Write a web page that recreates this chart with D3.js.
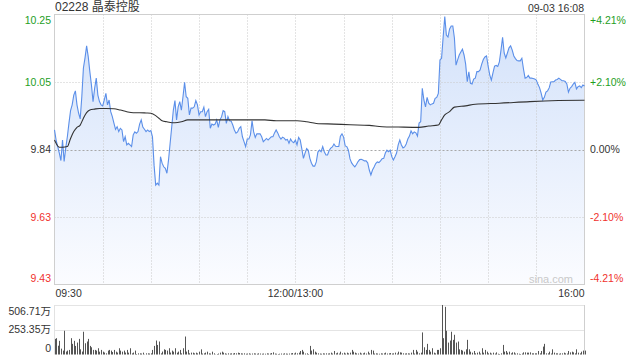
<!DOCTYPE html>
<html><head><meta charset="utf-8">
<script src="https://cdn.jsdelivr.net/npm/d3@7/dist/d3.min.js"></script>
<style>
html,body{margin:0;padding:0;background:#fff;}
svg text{font-family:"Liberation Sans",Arial,"Noto Sans CJK SC",sans-serif;}
</style></head><body>
<svg id="c" width="640" height="360"></svg>
<script>
// ---------- data ----------
const title = "02228 晶泰控股";
const stamp = "09-03 16:08";
const prevClose = 9.84;
const pctTicks = [4.21, 2.10, 0, -2.10, -4.21];
const pctLabels = ["+4.21%", "+2.10%", "0.00%", "-2.10%", "-4.21%"];
const timeTickMinutes = [0, 150, 330];
const timeTickLabels = ["09:30", "12:00/13:00", "16:00"];
const gridMinutes = [30, 60, 90, 120, 150, 180, 210, 240, 270, 300];
const volTicks = [0, 253.35, 506.71];
const volTickLabels = ["0", "253.35万", "506.71万"];

// price per minute (index = minutes since 09:30, trading minutes only)
const prices = [
9.900,9.869,9.849,9.829,9.806,9.869,9.803,9.845,9.879,9.921,
9.959,9.977,10.007,10.020,9.977,9.952,9.934,10.002,10.090,10.121,
10.158,10.125,10.079,10.038,9.987,10.028,10.059,10.007,9.987,9.977,
9.974,9.992,10.012,9.977,9.992,9.956,9.941,9.921,9.902,9.910,
9.895,9.905,9.900,9.864,9.879,9.854,9.859,9.854,9.849,9.885,
9.894,9.890,9.895,9.918,9.931,9.909,9.902,9.895,9.900,9.895,
9.898,9.879,9.792,9.731,9.737,9.731,9.818,9.798,9.787,9.782,
9.767,9.808,9.859,9.910,9.961,9.990,9.931,9.971,9.987,9.961,
10.002,10.046,10.002,9.997,9.946,9.967,9.967,9.971,9.990,9.977,
9.946,9.956,9.956,9.970,9.941,9.956,9.963,9.905,9.918,9.915,
9.918,9.931,9.908,9.931,9.940,9.959,9.956,9.920,9.941,9.928,
9.927,9.915,9.900,9.890,9.894,9.905,9.910,9.879,9.864,9.849,
9.872,9.872,9.885,9.928,9.894,9.877,9.888,9.888,9.888,9.879,
9.864,9.869,9.874,9.869,9.874,9.879,9.879,9.891,9.900,9.891,
9.879,9.872,9.878,9.875,9.869,9.871,9.859,9.872,9.864,9.861,
9.869,9.854,9.877,9.869,9.842,9.813,9.829,9.843,9.838,9.813,
9.798,9.789,9.789,9.802,9.832,9.838,9.833,9.849,9.833,9.823,
9.823,9.837,9.844,9.848,9.857,9.850,9.849,9.849,9.881,9.888,
9.878,9.851,9.849,9.838,9.811,9.799,9.792,9.787,9.794,9.803,
9.809,9.810,9.808,9.805,9.805,9.799,9.777,9.762,9.777,9.786,
9.797,9.802,9.800,9.805,9.812,9.813,9.829,9.838,9.833,9.838,
9.818,9.808,9.818,9.829,9.854,9.869,9.854,9.845,9.848,9.857,
9.872,9.881,9.897,9.888,9.894,9.891,9.881,9.921,9.925,10.028,
9.992,9.971,10.000,9.982,9.977,9.980,9.982,9.997,10.000,10.012,
10.115,10.120,10.186,10.248,10.191,10.185,10.210,10.219,10.219,10.182,
10.099,10.115,10.130,10.139,10.148,10.130,10.102,10.048,10.078,10.043,
10.041,10.056,10.059,10.079,10.079,10.084,10.102,10.116,10.124,10.127,
10.096,10.069,10.053,10.075,10.096,10.098,10.095,10.109,10.145,10.184,
10.136,10.121,10.136,10.152,10.158,10.145,10.127,10.119,10.113,10.112,
10.112,10.120,10.087,10.059,10.061,10.067,10.059,10.059,10.058,10.056,
10.053,10.040,10.030,10.013,9.992,10.000,10.016,10.020,10.029,10.047,
10.048,10.048,10.053,10.055,10.059,10.055,10.051,10.051,10.049,10.041,
10.016,10.028,10.033,10.041,10.046,10.026,10.033,10.035,10.030,10.038,
10.035
];

// average price line
const avgMinutes = [0,1,3,5,8,10,12,14,16,18,20,22,25,28,32,37,41,45,49,53,57,60,63,65,67,70,75,79,83,90,97,104,131,138,151,157,163,174,184,196,204,214,227,233,239,241,243,246,249,256,262,277,296,329,330];
const avgPrices  = [9.869,9.859,9.847,9.847,9.849,9.874,9.895,9.908,9.915,9.936,9.953,9.961,9.964,9.966,9.966,9.965,9.961,9.956,9.953,9.953,9.952,9.951,9.944,9.936,9.928,9.925,9.922,9.925,9.931,9.931,9.931,9.931,9.931,9.928,9.928,9.925,9.920,9.918,9.916,9.914,9.910,9.909,9.908,9.912,9.915,9.931,9.946,9.956,9.970,9.974,9.979,9.982,9.987,9.991,9.991];

// volume per minute, 万 shares
const volumes = [
160,167,90,140,60,40,243,30,40,47,
167,109,140,88,122,160,53,30,233,115,
133,160,88,74,47,47,40,64,29,47,
29,20,12,40,47,40,25,47,29,20,
64,40,29,40,20,47,19,64,12,20,
40,5,12,12,10,19,2,12,12,10,
12,47,88,143,98,133,12,30,53,47,
40,64,20,40,29,64,19,30,47,12,
64,184,30,47,12,19,19,12,19,12,
29,53,10,12,19,29,12,10,29,12,
2,5,10,19,29,19,12,8,12,10,
12,10,15,12,19,15,12,10,12,8,
10,12,8,10,12,10,8,12,10,8,
10,8,12,10,10,15,22,10,8,5,
8,10,8,12,10,8,10,12,15,10,
19,12,19,36,47,29,10,12,5,88,
40,53,29,19,12,10,8,12,10,12,
10,12,19,10,36,12,19,10,29,12,
19,10,19,12,19,47,29,19,12,10,
19,10,12,19,10,29,12,47,40,10,
12,10,8,12,10,12,19,10,12,15,
10,12,19,10,29,22,19,12,10,12,
12,10,19,47,10,47,29,12,19,226,
74,47,109,47,29,64,19,12,47,47,
64,507,167,488,243,122,143,233,150,202,
122,133,53,47,40,29,53,150,53,29,
19,36,12,19,29,10,64,19,47,29,
12,19,10,19,10,22,8,5,12,98,
29,36,19,29,12,22,22,10,12,8,
5,10,22,22,19,19,22,12,12,12,
12,36,12,36,81,109,12,12,29,10,
53,19,12,12,8,12,12,19,12,10,
36,22,29,22,12,53,19,12,29,40,
40
];

// ---------- layout ----------
const L = 54.5, R = 584.5, T = 14.5, B = 284.5;
const VT = 305, VB = 354.5;
const green = "#1e9e1e", red = "#f0322d", dark = "#333";

const svg = d3.select("#c");
const x = d3.scaleLinear().domain([0, 330]).range([L, R]);
const y = d3.scaleLinear()
  .domain([prevClose * (1 - 0.0421), prevClose * (1 + 0.0421)])
  .range([B, T]);
const yv = d3.scaleLinear().domain([0, 506.71]).range([VB, VT]);

// gradient fill
const defs = svg.append("defs");
const grad = defs.append("linearGradient").attr("id", "g")
  .attr("gradientUnits", "userSpaceOnUse").attr("x1", 0).attr("x2", 0).attr("y1", T).attr("y2", B);
grad.append("stop").attr("offset", "0").attr("stop-color", "#d2e1fa");
grad.append("stop").attr("offset", "1").attr("stop-color", "#fbfcff");

const data = prices.map((p, i) => ({m: i, p}));
svg.append("path").datum(data)
  .attr("fill", "url(#g)")
  .attr("d", d3.area().x(d => x(d.m)).y0(B).y1(d => y(d.p)));

// vertical grid
svg.append("g").selectAll("line").data(gridMinutes).join("line")
  .attr("x1", d => Math.round(x(d)) + 0.5).attr("x2", d => Math.round(x(d)) + 0.5)
  .attr("y1", T).attr("y2", B)
  .attr("stroke", "#c8c8c8").attr("stroke-dasharray", "1,2");

// horizontal grid
[2.10, -2.10].forEach(p => {
  const yy = Math.round(y(prevClose * (1 + p / 100))) + 0.5;
  svg.append("line").attr("x1", L).attr("x2", R).attr("y1", yy).attr("y2", yy)
    .attr("stroke", "#c8c8c8").attr("stroke-dasharray", "1,2");
});
{
  const yy = Math.round(y(prevClose)) + 0.5;
  svg.append("line").attr("x1", L).attr("x2", R).attr("y1", yy).attr("y2", yy)
    .attr("stroke", "#a8a8a8").attr("stroke-dasharray", "2,2");
}

// border
svg.append("rect").attr("x", L).attr("y", T).attr("width", R - L).attr("height", B - T)
  .attr("fill", "none").attr("stroke", "#cfcfcf");

// price line
svg.append("path").datum(data)
  .attr("fill", "none").attr("stroke", "#5b8fe9").attr("stroke-width", 1.1)
  .attr("d", d3.line().x(d => x(d.m)).y(d => y(d.p)));

// average line
const avgData = avgMinutes.map((m, i) => ({m, p: avgPrices[i]}));
svg.append("path").datum(avgData)
  .attr("fill", "none").attr("stroke", "#333").attr("stroke-width", 1.1)
  .attr("d", d3.line().curve(d3.curveMonotoneX).x(d => x(d.m)).y(d => y(d.p)));

// price axis labels
pctTicks.forEach((p, i) => {
  const v = prevClose * (1 + p / 100);
  let yy = y(v);
  if (i === 0) yy += 5.5;
  if (i === pctTicks.length - 1) yy -= 6.5;
  const col = p > 0 ? green : (p < 0 ? red : dark);
  svg.append("text").attr("x", 51).attr("y", yy).attr("dy", "0.35em")
    .attr("text-anchor", "end").attr("font-size", 10.5).attr("fill", col).text(v.toFixed(2));
  svg.append("text").attr("x", 590).attr("y", yy).attr("dy", "0.35em")
    .attr("text-anchor", "start").attr("font-size", 10.5).attr("fill", col).text(pctLabels[i]);
});

// time labels
timeTickMinutes.forEach((m, i) => {
  const anchor = i === 0 ? "start" : (i === timeTickMinutes.length - 1 ? "end" : "middle");
  svg.append("text").attr("x", x(m) + (i === 0 ? 1 : 0)).attr("y", 293).attr("dy", "0.35em")
    .attr("text-anchor", anchor).attr("font-size", 10.5).attr("fill", dark).text(timeTickLabels[i]);
});

// title & stamp
svg.append("text").attr("x", 55).attr("y", 7).attr("dy", "0.35em")
  .attr("font-size", 12).attr("fill", dark).text(title);
svg.append("text").attr("x", 584).attr("y", 8).attr("dy", "0.35em").attr("text-anchor", "end")
  .attr("font-size", 10.5).attr("fill", dark).text(stamp);

// watermark
svg.append("text").attr("x", 573).attr("y", 279).attr("dy", "0.35em").attr("text-anchor", "end")
  .attr("font-size", 11).attr("fill", "#c9c9c9").text("sina.com");

// volume panel
[506.71, 253.35].forEach(v => {
  const yy = Math.round(yv(v)) + 0.5;
  svg.append("line").attr("x1", L).attr("x2", R).attr("y1", yy).attr("y2", yy)
    .attr("stroke", "#c8c8c8").attr("stroke-dasharray", "1,1");
});
svg.append("line").attr("x1", R).attr("x2", R).attr("y1", VT).attr("y2", VB)
  .attr("stroke", "#cfcfcf");
svg.append("line").attr("x1", L).attr("x2", L).attr("y1", VT).attr("y2", VB)
  .attr("stroke", "#e2e2e2");

svg.append("g").selectAll("rect").data(volumes.map((v, i) => ({m: i, v}))).join("rect")
  .attr("x", d => Math.round(x(d.m)) )
  .attr("width", 1)
  .attr("y", d => yv(d.v))
  .attr("height", d => VB - yv(d.v))
  .attr("fill", "#555");

volTicks.forEach((v, i) => {
  let yy = yv(v);
  if (i === 0) yy -= 6.5;
  if (i === volTicks.length - 1) yy += 6;
  svg.append("text").attr("x", 51).attr("y", yy).attr("dy", "0.35em")
    .attr("text-anchor", "end").attr("font-size", 10.5).attr("fill", dark).text(volTickLabels[i]);
});
</script>
</body></html>
